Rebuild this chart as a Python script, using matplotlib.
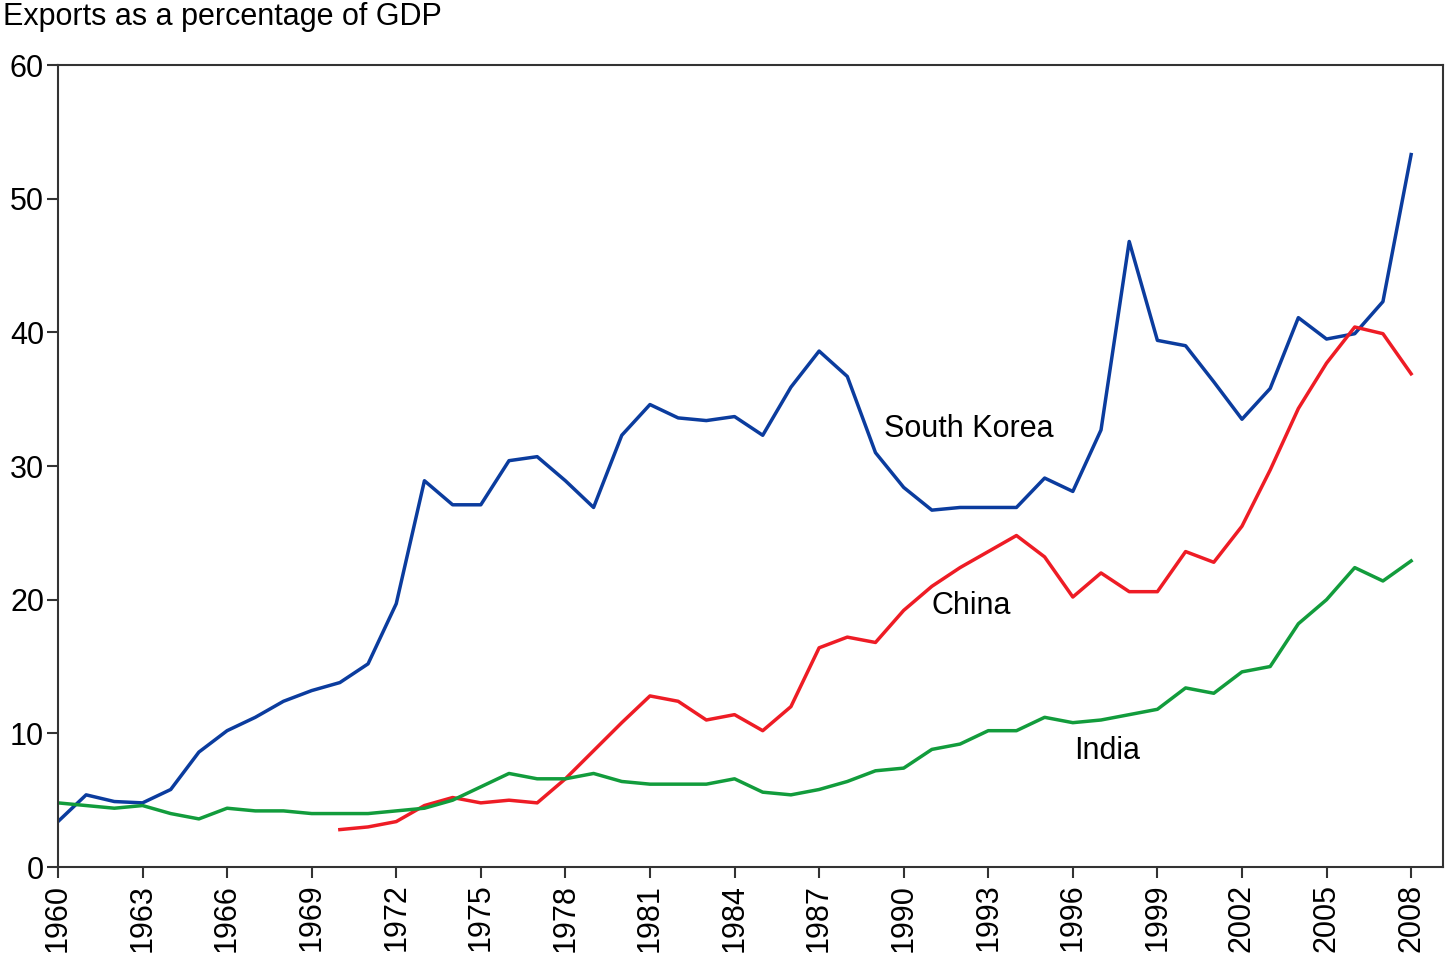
import numpy as np
import matplotlib.pyplot as plt

plt.rcParams['font.family'] = ['Liberation Sans', 'DejaVu Sans']

# years
years = list(range(1960, 2009))
china_years = list(range(1970, 2009))

# exports as % of GDP
south_korea = [3.4, 5.4, 4.9, 4.8, 5.8, 8.6, 10.2, 11.2, 12.4, 13.2,
               13.8, 15.2, 19.7, 28.9, 27.1, 27.1, 30.4, 30.7, 28.9, 26.9,
               32.3, 34.6, 33.6, 33.4, 33.7, 32.3, 35.9, 38.6, 36.7, 31.0,
               28.4, 26.7, 26.9, 26.9, 26.9, 29.1, 28.1, 32.7, 46.8, 39.4,
               39.0, 36.3, 33.5, 35.8, 41.1, 39.5, 39.9, 42.3, 53.3]
china = [2.8, 3.0, 3.4, 4.6, 5.2, 4.8, 5.0, 4.8, 6.6, 8.7,
         10.8, 12.8, 12.4, 11.0, 11.4, 10.2, 12.0, 16.4, 17.2, 16.8,
         19.2, 21.0, 22.4, 23.6, 24.8, 23.2, 20.2, 22.0, 20.6, 20.6,
         23.6, 22.8, 25.5, 29.7, 34.3, 37.7, 40.4, 39.9, 36.9]
india = [4.8, 4.6, 4.4, 4.6, 4.0, 3.6, 4.4, 4.2, 4.2, 4.0,
         4.0, 4.0, 4.2, 4.4, 5.0, 6.0, 7.0, 6.6, 6.6, 7.0,
         6.4, 6.2, 6.2, 6.2, 6.6, 5.6, 5.4, 5.8, 6.4, 7.2,
         7.4, 8.8, 9.2, 10.2, 10.2, 11.2, 10.8, 11.0, 11.4, 11.8,
         13.4, 13.0, 14.6, 15.0, 18.2, 20.0, 22.4, 21.4, 22.9]

fig = plt.figure(figsize=(14.45, 9.59), dpi=100)
ax = fig.add_axes([0.0401, 0.0959, 0.9585, 0.8363])

ax.plot(years, south_korea, color='#0b3c9e', lw=2.5)
ax.plot(china_years, china, color='#ee1c25', lw=2.5)
ax.plot(years, india, color='#129c3c', lw=2.5)

# series labels
fs = 22
ax.text(1992.3, 32.8, 'South Korea', fontsize=fs, ha='center', va='center')
ax.text(1992.4, 19.5, 'China', fontsize=fs, ha='center', va='center')
ax.text(1997.2, 8.7, 'India', fontsize=fs, ha='center', va='center')

ax.set_xlim(1960, 2009.13)
ax.set_ylim(0, 60)
ax.set_yticks(range(0, 61, 10))
ax.set_xticks(range(1960, 2009, 3))
ax.set_xticklabels([str(y) for y in range(1960, 2009, 3)], rotation=90)
ax.tick_params(axis='both', labelsize=fs, length=8, width=1.5, color='#333333', pad=4)
ax.tick_params(axis='y', pad=2)
for s in ax.spines.values():
    s.set_linewidth(1.5)
    s.set_color('#333333')

fig.text(0.002, 0.982, 'Exports as a percentage of GDP', fontsize=fs, ha='left', va='center')

fig.savefig('out.png', dpi=100)
